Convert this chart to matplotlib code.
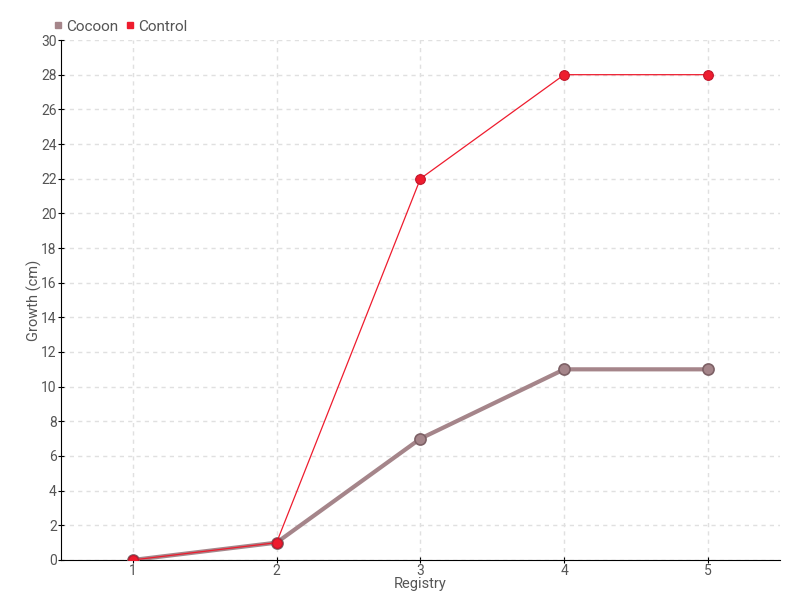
import matplotlib.pyplot as plt
from matplotlib.lines import Line2D

registry = [1, 2, 3, 4, 5]
cocoon = [0, 1, 7, 11, 11]
control = [0, 1, 22, 28, 28]

COCOON = "#a5858a"
CONTROL = "#ee1c2e"
TEXT = "#555555"

plt.rcParams["font.family"] = ["Roboto", "DejaVu Sans"]

fig = plt.figure(figsize=(8, 6), dpi=100)
ax = fig.add_axes([0.076, 0.0667, 0.899, 0.8666])

ax.plot(registry, cocoon, color=COCOON, lw=3, marker="o", ms=8,
        mfc=COCOON, mec="#7d6166", mew=1.2, zorder=3)
ax.plot(registry, control, color=CONTROL, lw=0.9, marker="o", ms=7,
        mfc=CONTROL, mec="#c0142a", mew=0.8, zorder=4)

ax.set_xlim(0.5, 5.5)
ax.set_ylim(0, 30)
ax.set_xticks(registry)
ax.set_yticks(range(0, 31, 2))
ax.grid(True, color="#e0e0e0", ls=(0, (3, 3)), lw=1)
ax.set_axisbelow(True)
for s in ("top", "right"):
    ax.spines[s].set_visible(False)
for s in ("left", "bottom"):
    ax.spines[s].set_color("#000000")
ax.tick_params(labelcolor=TEXT, labelsize=10, length=4, direction="inout",
               color="#000000", pad=1)
ax.set_xlabel("Registry", color=TEXT, fontsize=10.5, labelpad=-1)
ax.set_ylabel("Growth (cm)", color=TEXT, fontsize=10.5, labelpad=-1)

handles = [Line2D([], [], ls="none", marker="s", ms=5, color=COCOON),
           Line2D([], [], ls="none", marker="s", ms=5, color=CONTROL)]
fig.legend(handles, ["Cocoon", "Control"], loc="upper left",
           bbox_to_anchor=(0.05, 0.99), ncol=2, frameon=False,
           handlelength=0.6, handletextpad=0.2, columnspacing=0.5,
           fontsize=11, labelcolor=TEXT)

fig.savefig("out.png", dpi=100)
